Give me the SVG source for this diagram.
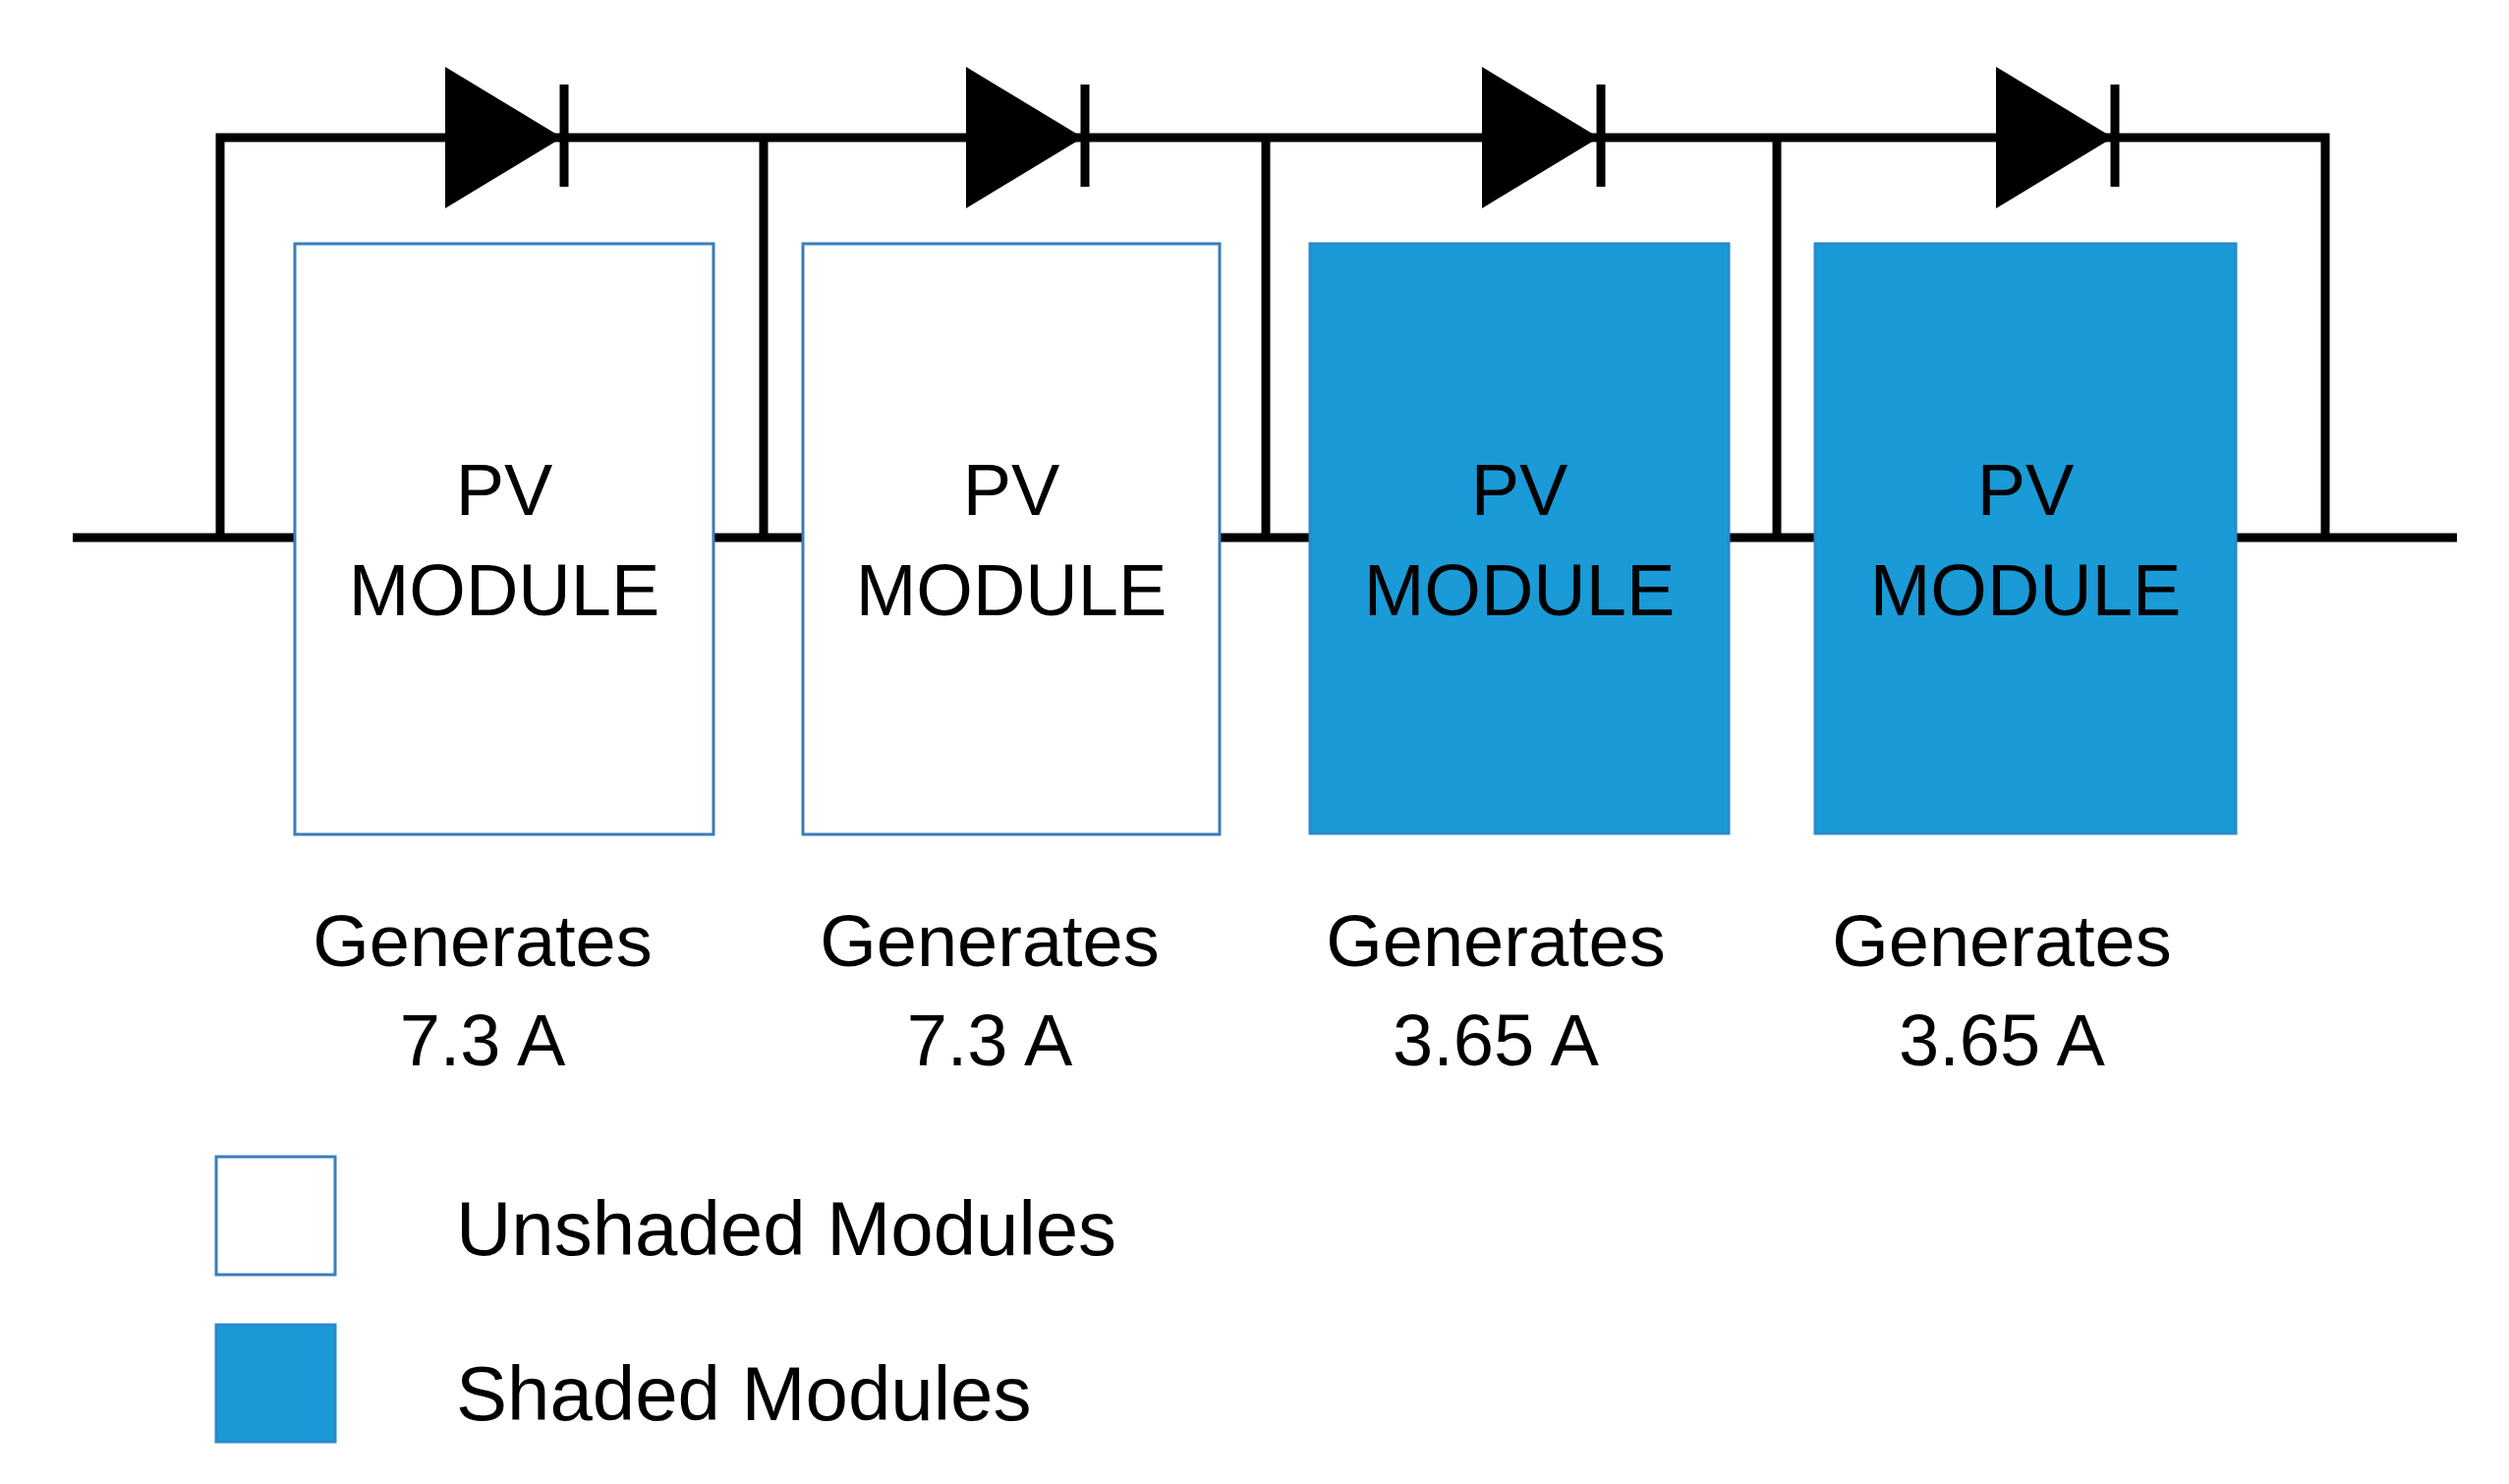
<svg xmlns="http://www.w3.org/2000/svg" width="2553" height="1510" viewBox="0 0 2553 1510">
<style>
.w{fill:none;stroke:#000;stroke-width:9}
.bar{stroke:#000;stroke-width:9}
.un{fill:#fff;stroke:#3A7DB8;stroke-width:3}
.sh{fill:#1A9AD6;stroke:#2A8ACB;stroke-width:3}
text{font-family:"Liberation Sans",Arial,sans-serif;font-size:74px;fill:#000;text-anchor:middle}
.lg{font-size:78px;text-anchor:start}
</style>
<defs>
<g id="diode"><polygon points="0,-72 119,0 0,72" fill="#000"/><line class="bar" x1="121" y1="-54" x2="121" y2="50"/></g>
</defs>
<rect width="2553" height="1510" fill="#fff"/>
<g id="connectors">
<line class="w" x1="74" y1="547" x2="2500" y2="547"/>
<polyline class="w" points="224,547 224,140 2366,140 2366,547"/>
<line class="w" x1="777" y1="140" x2="777" y2="547"/>
<line class="w" x1="1288" y1="140" x2="1288" y2="547"/>
<line class="w" x1="1808" y1="140" x2="1808" y2="547"/>
<use href="#diode" x="453" y="140"/>
<use href="#diode" x="983" y="140"/>
<use href="#diode" x="1508" y="140"/>
<use href="#diode" x="2031" y="140"/>
</g>
<g id="m1"><rect class="un" x="300" y="248" width="426" height="601"/><text x="513" y="524">PV</text><text x="513" y="626">MODULE</text><text x="491" y="983">Generates</text><text x="491" y="1084">7.3 A</text></g>
<g id="m2"><rect class="un" x="817" y="248" width="424" height="601"/><text x="1029" y="524">PV</text><text x="1029" y="626">MODULE</text><text x="1007" y="983">Generates</text><text x="1007" y="1084">7.3 A</text></g>
<g id="m3"><rect class="sh" x="1333" y="248" width="426" height="600"/><text x="1546" y="524">PV</text><text x="1546" y="626">MODULE</text><text x="1522" y="983">Generates</text><text x="1522" y="1084">3.65 A</text></g>
<g id="m4"><rect class="sh" x="1847" y="248" width="428" height="600"/><text x="2061" y="524">PV</text><text x="2061" y="626">MODULE</text><text x="2037" y="983">Generates</text><text x="2037" y="1084">3.65 A</text></g>
<g id="legend-unshaded"><rect class="un" x="220" y="1177" width="121" height="120"/><text class="lg" x="464" y="1277">Unshaded Modules</text></g>
<g id="legend-shaded"><rect class="sh" x="220" y="1348" width="121" height="119"/><text class="lg" x="464" y="1445">Shaded Modules</text></g>
</svg>
